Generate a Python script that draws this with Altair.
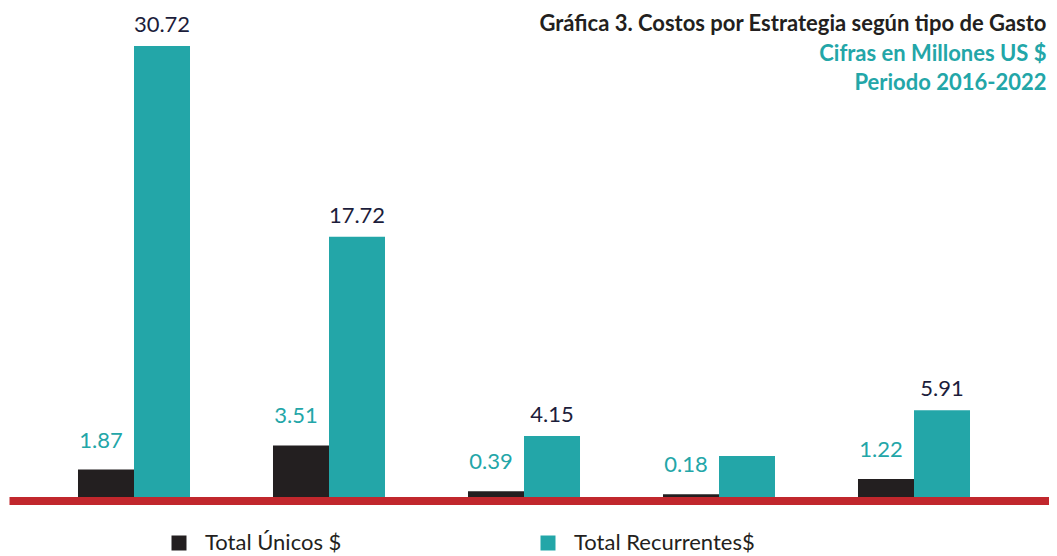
import altair as alt
import pandas as pd

# ---- data ----
categories = ["Estrategia 1", "Estrategia 2", "Estrategia 3", "Estrategia 4", "Estrategia 5"]
series = ["Total Únicos $", "Total Recurrentes$"]
unicos = [1.87, 3.51, 0.39, 0.18, 1.22]
recurrentes = [30.72, 17.72, 4.15, 2.79, 5.91]
unicos_labels = ["1.87", "3.51", "0.39", "0.18", "1.22"]
recurrentes_labels = ["30.72", "17.72", "4.15", "", "5.91"]
title_lines = [
    "Gráfica 3. Costos por Estrategia según tipo de Gasto",
    "Cifras en Millones US $",
    "Periodo 2016-2022",
]

rows = []
for i, c in enumerate(categories):
    rows.append({"cat": c, "serie": series[0], "valor": unicos[i], "label": unicos_labels[i]})
    rows.append({"cat": c, "serie": series[1], "valor": recurrentes[i], "label": recurrentes_labels[i]})
df = pd.DataFrame(rows)

BLACK = "#231f20"
TEAL = "#23a6a8"
NAVY = "#1c1d3b"
RED = "#c1272d"
FONT = "Lato"

W, H = 975, 451

x_enc = alt.X("cat:N", sort=categories, axis=None,
              scale=alt.Scale(paddingInner=0.4256, paddingOuter=0.2128))
xo_enc = alt.XOffset("serie:N", sort=series, scale=alt.Scale(paddingInner=0, paddingOuter=0))
y_enc = alt.Y("valor:Q", axis=None, scale=alt.Scale(domain=[0, 30.72], nice=False, zero=True))

bars = alt.Chart(df).mark_bar().encode(
    x=x_enc, xOffset=xo_enc, y=y_enc,
    color=alt.Color("serie:N", sort=series,
                    scale=alt.Scale(domain=series, range=[BLACK, TEAL]),
                    legend=alt.Legend(title=None, orient="none", direction="horizontal",
                                      legendX=131.5, legendY=486)),
)

lab_u = alt.Chart(df).transform_filter(alt.datum.serie == series[0]).mark_text(
    font=FONT, fontSize=22, color=TEAL, baseline="middle", dy=-29, dx=-5
).encode(x=x_enc, xOffset=xo_enc, y=y_enc, text="label:N")

lab_r = alt.Chart(df).transform_filter(alt.datum.serie == series[1]).mark_text(
    font=FONT, fontSize=22, color=NAVY, baseline="middle", dy=-21
).encode(x=x_enc, xOffset=xo_enc, y=y_enc, text="label:N")

one = alt.Data(values=[{"a": 1}])

red_line = alt.Chart(one).mark_rule(color=RED, strokeWidth=8).encode(
    x=alt.value(-27), x2=alt.value(1030), y=alt.value(H + 4)
)

RX = 1010
t1 = alt.Chart(one).mark_text(font=FONT, fontSize=22, fontWeight="bold", color=BLACK,
                              align="right", baseline="middle").encode(
    x=alt.value(RX), y=alt.value(-22), text=alt.value(title_lines[0]))
t2 = alt.Chart(one).mark_text(font=FONT, fontSize=22, fontWeight="bold", color=TEAL,
                              align="right", baseline="middle").encode(
    x=alt.value(RX), y=alt.value(8), text=alt.value(title_lines[1]))
t3 = alt.Chart(one).mark_text(font=FONT, fontSize=22, fontWeight="bold", color=TEAL,
                              align="right", baseline="middle").encode(
    x=alt.value(RX), y=alt.value(37), text=alt.value(title_lines[2]))

chart = alt.layer(bars, red_line, lab_u, lab_r, t1, t2, t3).properties(
    width=W, height=H,
    autosize=alt.AutoSizeParams(type="none"),
    padding={"left": 28.5, "right": 37.5, "top": 38, "bottom": 59},
    background="white",
).configure_view(strokeWidth=0, stroke="transparent").configure_legend(
    symbolType="square", symbolSize=225, symbolStrokeWidth=0,
    labelFont=FONT, labelFontSize=22, labelColor=BLACK, labelOffset=15,
    columnPadding=195, padding=0, labelLimit=0,
)

chart.save("out.html", embed_options={"renderer": "svg", "actions": False})
